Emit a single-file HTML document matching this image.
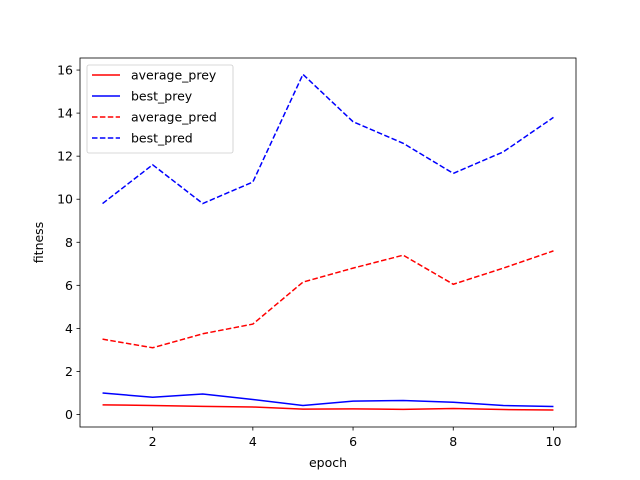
<!DOCTYPE html>
<html><head><meta charset="utf-8"><style>
html,body{margin:0;padding:0;background:#fff;}
svg{display:block;font-family:"DejaVu Sans","Liberation Sans",sans-serif;}
</style></head><body>
<svg id="chart" width="640" height="480" viewBox="0 0 640 480"></svg>
<script>
const epochs=[1,2,3,4,5,6,7,8,9,10];
const averagePrey=[0.45,0.42,0.38,0.35,0.25,0.26,0.24,0.28,0.23,0.21];
const bestPrey=[1.0,0.8,0.95,0.7,0.42,0.62,0.65,0.57,0.42,0.37];
const averagePred=[3.5,3.1,3.75,4.2,6.15,6.8,7.4,6.05,6.8,7.6];
const bestPred=[9.8,11.6,9.8,10.8,15.8,13.6,12.6,11.2,12.2,13.8];
const xTicks=[2,4,6,8,10];
const yTicks=[0,2,4,6,8,10,12,14,16];

const svg=document.getElementById('chart');
const NS='http://www.w3.org/2000/svg';
const L=80,R=576,T=58,B=427;
const FS=12.5;
const xmin=0.55,xmax=10.45,ymin=-0.58,ymax=16.56;
const sx=v=>L+(v-xmin)/(xmax-xmin)*(R-L);
const sy=v=>B-(v-ymin)/(ymax-ymin)*(B-T);
function mk(tag,attrs){const e=document.createElementNS(NS,tag);for(const k in attrs)e.setAttribute(k,attrs[k]);svg.appendChild(e);return e;}

const series=[
 {name:'average_prey',vals:averagePrey,color:'#ff0000',dash:''},
 {name:'best_prey',vals:bestPrey,color:'#0000ff',dash:''},
 {name:'average_pred',vals:averagePred,color:'#ff0000',dash:'5.5,2.4'},
 {name:'best_pred',vals:bestPred,color:'#0000ff',dash:'5.5,2.4'}
];
series.forEach(s=>{
 const p=mk('polyline',{points:epochs.map((e,i)=>sx(e)+','+sy(s.vals[i])).join(' '),fill:'none',stroke:s.color,'stroke-width':1.5,'stroke-dasharray':s.dash});
 
 
});

const frame=mk('rect',{x:L,y:T,width:R-L,height:B-T,fill:'none',stroke:'#000','stroke-width':0.8});



xTicks.forEach(t=>{
 const x=sx(t);
 const tk=mk('line',{x1:x,x2:x,y1:B,y2:B+3.5,stroke:'#000','stroke-width':0.8});
 
 
 const tx=mk('text',{x:x,y:B+19,'text-anchor':'middle','font-size':FS});
 tx.textContent=t;
 
 
});
yTicks.forEach(t=>{
 const y=sy(t);
 const tk=mk('line',{x1:L-3.5,x2:L,y1:y,y2:y,stroke:'#000','stroke-width':0.8});
 
 
 const tx=mk('text',{x:L-7,y:y+4.5,'text-anchor':'end','font-size':FS});
 tx.textContent=t;
 
 
});
const xl=mk('text',{x:(L+R)/2,y:467,'text-anchor':'middle','font-size':FS});
xl.textContent='epoch';


const yl=mk('text',{x:0,y:0,'text-anchor':'middle','font-size':FS,transform:'translate(43,'+((T+B)/2)+') rotate(-90)'});
yl.textContent='fitness';



const lg=mk('rect',{x:87,y:65,width:146,height:88,rx:2,fill:'#fff','fill-opacity':0.8,stroke:'#ccc','stroke-width':0.8});


series.forEach((s,i)=>{
 const y=75+i*21;
 const ln=mk('line',{x1:92,x2:120,y1:y,y2:y,stroke:s.color,'stroke-width':1.5,'stroke-dasharray':s.dash});
 
 
 const tx=mk('text',{x:131,y:y+4.5,'font-size':FS});
 tx.textContent=s.name;
 
 
});
</script>
</body></html>
